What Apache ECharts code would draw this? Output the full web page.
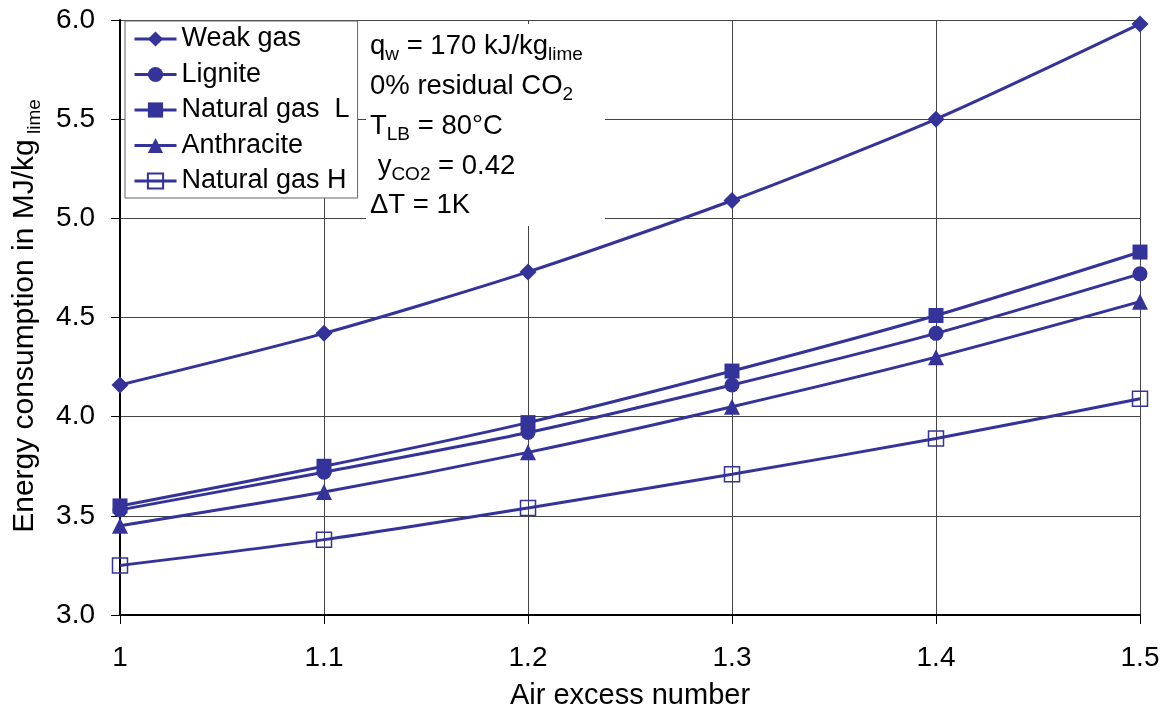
<!DOCTYPE html>
<html>
<head>
<meta charset="utf-8">
<title>Energy consumption vs. air excess number</title>
<script src="https://cdn.jsdelivr.net/npm/echarts@6/dist/echarts.min.js"></script>
<style>
  html, body { margin: 0; padding: 0; background: #ffffff; }
  #chart { width: 1169px; height: 715px; }
</style>
</head>
<body>
<div id="chart"></div>
<script>
// Air excess number (x) and specific energy consumption in MJ/kg lime (y)
const airExcess   = [1.0, 1.1, 1.2, 1.3, 1.4, 1.5];
const weakGas     = [4.16, 4.42, 4.73, 5.09, 5.50, 5.98];
const lignite     = [3.53, 3.72, 3.92, 4.16, 4.42, 4.72];
const naturalGasL = [3.55, 3.75, 3.97, 4.23, 4.51, 4.83];
const anthracite  = [3.45, 3.62, 3.82, 4.05, 4.30, 4.58];
const naturalGasH = [3.25, 3.38, 3.54, 3.71, 3.89, 4.09];

const seriesNames = ['Weak gas', 'Lignite', 'Natural gas  L', 'Anthracite', 'Natural gas H'];

const FONT = "'Liberation Sans', Arial, sans-serif";
const BLUE = '#333399';

const pairs = ys => airExcess.map((x, i) => [x, ys[i]]);

function lineSeries(name, ys, symbol, size, hollow) {
  return {
    name: name,
    type: 'line',
    data: pairs(ys),
    smooth: 0.25,
    symbol: symbol,
    symbolSize: size,
    showAllSymbol: true,
    lineStyle: { color: BLUE, width: 3 },
    itemStyle: hollow
      ? { color: 'rgba(255,255,255,0)', borderColor: BLUE, borderWidth: 1.5 }
      : { color: BLUE, borderWidth: 0 },
    emphasis: { disabled: true },
    animation: false,
    z: 3
  };
}

const chart = echarts.init(document.getElementById('chart'), null, { renderer: 'canvas' });

const subRich = {
  m: { fontFamily: FONT, fontSize: 27.5, lineHeight: 32, verticalAlign: 'top', color: '#000' },
  s: { fontFamily: FONT, fontSize: 19, lineHeight: 17, verticalAlign: 'bottom', color: '#000' }
};

function noteLine(text, x, y) {
  return {
    type: 'text',
    x: x,
    y: y,
    z: 101,
    style: { text: text, rich: subRich, align: 'left', verticalAlign: 'middle' }
  };
}

chart.setOption({
  backgroundColor: '#ffffff',
  animation: false,
  textStyle: { fontFamily: FONT },
  grid: { left: 120, right: 29, top: 20, bottom: 100, containLabel: false },
  xAxis: {
    type: 'value',
    min: 1.0,
    max: 1.5,
    interval: 0.1,
    name: 'Air excess number',
    nameLocation: 'middle',
    nameGap: 66,
    nameTextStyle: { fontFamily: FONT, fontSize: 29, color: '#000' },
    axisLine: { show: true, onZero: false, lineStyle: { color: '#000', width: 2 } },
    axisTick: { show: true, inside: false, length: 9, lineStyle: { color: '#000', width: 1 } },
    axisLabel: {
      margin: 29,
      fontFamily: FONT,
      fontSize: 28,
      color: '#000',
      formatter: v => String(Math.round(v * 10) / 10)
    },
    splitLine: { show: true, lineStyle: { color: '#444', width: 1 } }
  },
  yAxis: {
    type: 'value',
    min: 3.0,
    max: 6.0,
    interval: 0.5,
    axisLine: { show: true, onZero: false, lineStyle: { color: '#000', width: 2 } },
    axisTick: { show: true, inside: false, length: 9, lineStyle: { color: '#000', width: 1 } },
    axisLabel: {
      margin: 25,
      fontFamily: FONT,
      fontSize: 28,
      color: '#000',
      formatter: v => v.toFixed(1)
    },
    splitLine: { show: true, lineStyle: { color: '#444', width: 1 } }
  },
  legend: {
    data: seriesNames,
    orient: 'vertical',
    left: 125,
    top: 21,
    padding: [3, 8, 2, 8],
    itemGap: 5.5,
    itemWidth: 42,
    itemHeight: 19,
    backgroundColor: '#ffffff',
    borderColor: '#666666',
    borderWidth: 1,
    borderRadius: 0,
    selectedMode: false,
    lineStyle: { width: 3 },
    textStyle: { fontFamily: FONT, fontSize: 27, lineHeight: 30, color: '#000' },
    z: 10
  },
  graphic: [
    // y-axis title with subscript, reading bottom to top
    {
      type: 'text',
      x: 27,
      y: 316,
      rotation: Math.PI / 2,
      z: 101,
      style: {
        text: '{m|Energy consumption in MJ/kg}{s| lime}',
        align: 'center',
        verticalAlign: 'middle',
        rich: {
          m: { fontFamily: FONT, fontSize: 30, lineHeight: 34, verticalAlign: 'top', color: '#000' },
          s: { fontFamily: FONT, fontSize: 19, lineHeight: 16, verticalAlign: 'bottom', color: '#000' }
        }
      }
    },
    // process conditions box
    {
      type: 'rect',
      shape: { x: 366, y: 24, width: 239, height: 202 },
      style: { fill: '#ffffff' },
      z: 100
    },
    noteLine('{m|q}{s|w}{m| = 170 kJ/kg}{s|lime}', 370, 48),
    noteLine('{m|0% residual CO}{s|2}', 370, 88),
    noteLine('{m|T}{s|LB}{m| = 80°C}', 370, 128),
    noteLine('{m| y}{s|CO2}{m| = 0.42}', 370, 168),
    noteLine('{m|ΔT = 1K}', 370, 207)
  ],
  series: [
    lineSeries(seriesNames[0], weakGas, 'diamond', 17, false),
    lineSeries(seriesNames[1], lignite, 'circle', 15, false),
    lineSeries(seriesNames[2], naturalGasL, 'rect', 15, false),
    lineSeries(seriesNames[3], anthracite, 'triangle', 16, false),
    lineSeries(seriesNames[4], naturalGasH, 'rect', 15, true)
  ]
});
</script>
</body>
</html>
